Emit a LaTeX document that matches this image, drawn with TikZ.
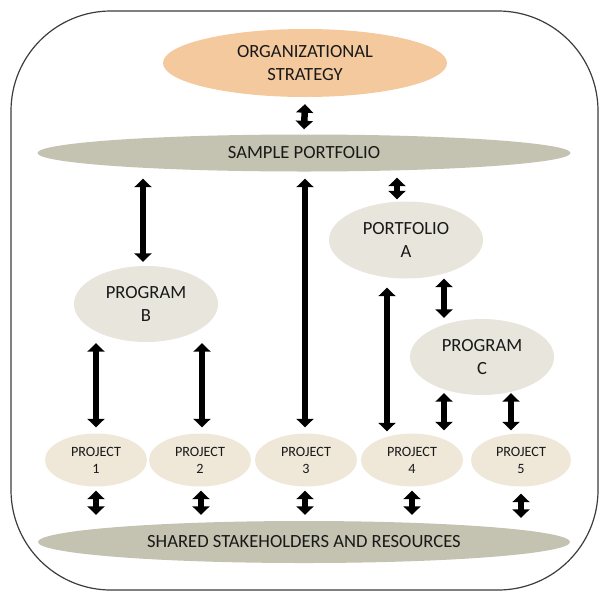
\documentclass[tikz,border=0pt]{standalone}
\usepackage{fontspec}
\setmainfont{Carlito}
\usetikzlibrary{shapes.geometric,arrows.meta,calc}
\definecolor{orangefill}{RGB}{244,201,158}
\definecolor{olivefill}{RGB}{196,194,177}
\definecolor{greyfill}{RGB}{231,229,220}
\definecolor{beigefill}{RGB}{239,232,216}
\definecolor{txt}{RGB}{25,25,25}
\definecolor{frame}{RGB}{60,60,60}
\tikzset{
  oval/.style={ellipse, inner sep=0pt, align=center, text=txt, draw=none},
  dbl/.style={line width=6.5pt, black,
    {Triangle[width=17pt,length=8.5pt]}-{Triangle[width=17pt,length=8.5pt]}},
  bigtxt/.style={font=\fontsize{18.6}{22.5}\selectfont},
  smalltxt/.style={font=\fontsize{14.2}{17}\selectfont},
}
\begin{document}
\begin{tikzpicture}[x=1pt,y=-1pt]
\useasboundingbox (0,0) rectangle (609,600);
\draw[frame, line width=1.2pt, rounded corners=100pt] (11,11) rectangle (598,590);

\node[oval, bigtxt, fill=orangefill, minimum width=284pt, minimum height=68pt] (os) at (305,63) {ORGANIZATIONAL\\STRATEGY};
\node[oval, bigtxt, fill=olivefill, minimum width=533pt, minimum height=37pt] (sp) at (304,153) {SAMPLE PORTFOLIO};
\node[oval, bigtxt, fill=greyfill, minimum width=154pt, minimum height=77pt] (pa) at (406,240) {PORTFOLIO\\A};
\node[oval, bigtxt, fill=greyfill, minimum width=144pt, minimum height=76pt] (pb) at (146,304) {PROGRAM\\B};
\node[oval, bigtxt, fill=greyfill, minimum width=144pt, minimum height=76pt] (pc) at (482,357) {PROGRAM\\C};
\node[oval, smalltxt, fill=beigefill, minimum width=102pt, minimum height=53pt] (p1) at (96,460) {PROJECT\\1};
\node[oval, smalltxt, fill=beigefill, minimum width=102pt, minimum height=53pt] (p2) at (200,460) {PROJECT\\2};
\node[oval, smalltxt, fill=beigefill, minimum width=102pt, minimum height=53pt] (p3) at (306,460) {PROJECT\\3};
\node[oval, smalltxt, fill=beigefill, minimum width=102pt, minimum height=53pt] (p4) at (412,460) {PROJECT\\4};
\node[oval, smalltxt, fill=beigefill, minimum width=100pt, minimum height=53pt] (p5) at (521,460) {PROJECT\\5};
\node[oval, bigtxt, fill=olivefill, minimum width=532pt, minimum height=42pt] (sh) at (304,542) {SHARED STAKEHOLDERS AND RESOURCES};

% connectors
\draw[dbl] ($(os.south)+(0,7)$) -- ($(sp.north)+(0,-5)$);
\draw[dbl] ($(sp.south -| pb.north)+(-3,7)$) -- ($(pb.north)+(-3,-4)$);
\draw[dbl] ($(sp.south -| p3.north)+(-1,7)$) -- ($(p3.north)+(-1,-6)$);
\draw[dbl] ($(sp.south -| pa.north)+(-9,6)$) -- ($(pa.north)+(-9,-2)$);
\draw[dbl] ($(pa.south)+(-19,9)$) -- ($(p4.north -| pa.south)+(-19,-2)$);
\draw[dbl] ($(pa.south)+(38,0)$) -- ($(pc.north)+(-38,-1)$);
\draw[dbl] ($(pb.south -| p1.north)+(0,1)$) -- ($(p1.north)+(0,-6)$);
\draw[dbl] ($(pb.south -| p2.north)+(2,1)$) -- ($(p2.north)+(2,-6)$);
\draw[dbl] ($(pc.south)+(-38,-2)$) -- ($(p4.north -| pc.south)+(-38,-3)$);
\draw[dbl] ($(pc.south -| p5.north)+(-10,-2)$) -- ($(p5.north)+(-10,-3)$);
\draw[dbl] ($(p1.south)+(0,4)$) -- ($(sh.north -| p1.south)+(0,-6)$);
\draw[dbl] ($(p2.south)+(1,4)$) -- ($(sh.north -| p2.south)+(1,-6)$);
\draw[dbl] ($(p3.south)+(-1,4)$) -- ($(sh.north -| p3.south)+(-1,-6)$);
\draw[dbl] ($(p4.south)+(0,4)$) -- ($(sh.north -| p4.south)+(0,-6)$);
\draw[dbl] ($(p5.south)+(0,7)$) -- ($(sh.north -| p5.south)+(0,-3)$);
\end{tikzpicture}
\end{document}
